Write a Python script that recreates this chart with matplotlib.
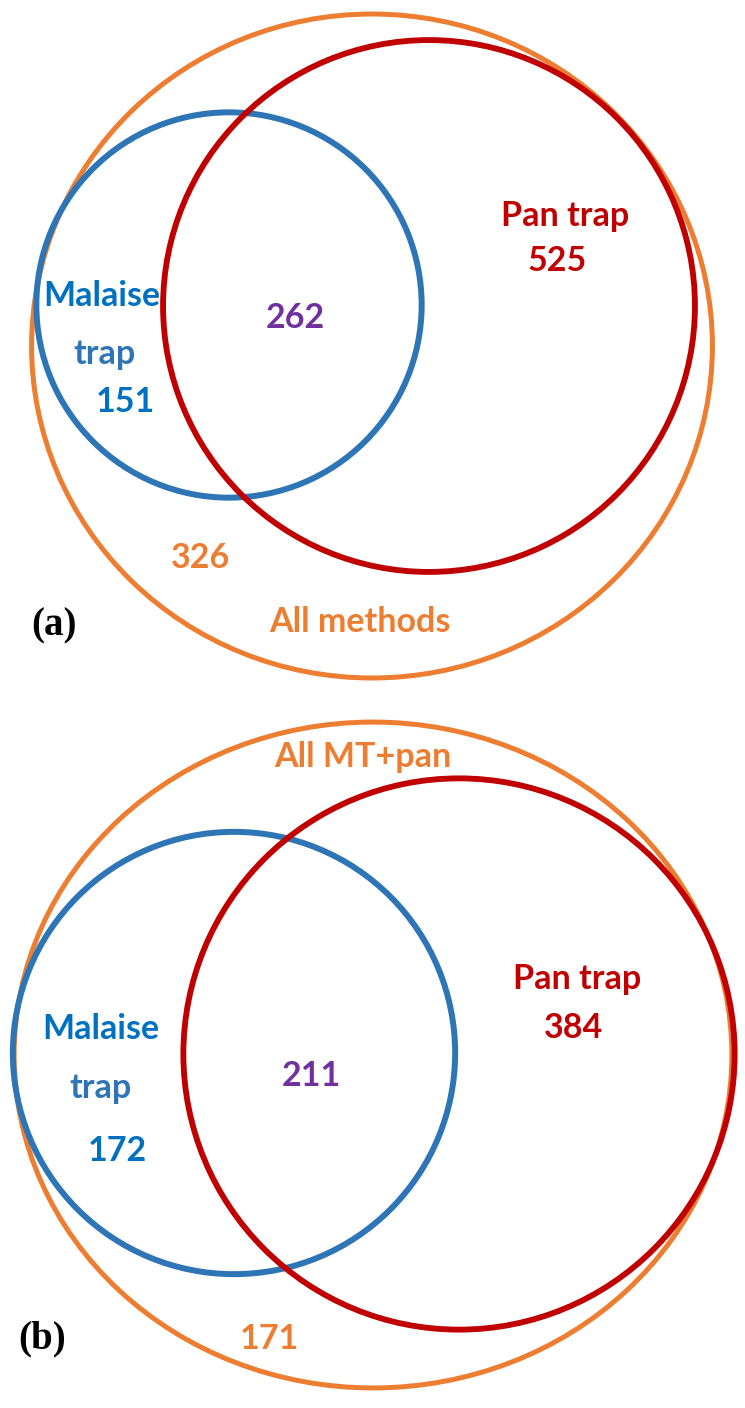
import matplotlib.pyplot as plt
from matplotlib.patches import Ellipse
import numpy as np

# Species counts per region of each Venn panel
panel_labels = ['(a)', '(b)']
total_names = ['All methods', 'All MT+pan']
malaise_only = [151, 172]
shared = [262, 211]
pan_only = [525, 384]
other_only = [326, 171]

orange = '#ED7D31'
blue = '#2E75B6'
blue_dark = '#0070C0'
red = '#C00000'
purple = '#7030A0'

fig = plt.figure(figsize=(7.45, 14.08), dpi=100)
ax = fig.add_axes([0, 0, 1, 1])
ax.set_xlim(0, 745)
ax.set_ylim(1408, 0)
ax.axis('off')

# circle area ~ count; per panel scale and centres (pixel layout)
scale = [9.48, 11.3]
centre_total = [(372, 346), (373, 1055)]
centre_malaise = [(229, 305), (234, 1053)]
centre_pan = [(429, 306), (459, 1054)]
stretch_total = [(1.01, 0.985), (1.037, 0.962)]

# text anchors (pixel layout)
txt = [
    dict(total=(360, 622), pan=(565, 216), pan_n=(557, 261), mal=(102, 296),
         trap=(104, 354), mal_n=(125, 402), both=(295, 318), other=(201, 558),
         label=(54, 626)),
    dict(total=(363, 757), pan=(577, 979), pan_n=(574, 1028), mal=(101, 1029),
         trap=(101, 1088), mal_n=(117, 1151), both=(311, 1076), other=(269, 1339),
         label=(42, 1339)),
]

fs = 24.5
font = dict(family='Lato', fontweight='bold', fontsize=fs, ha='center', va='center')

for i in range(2):
    k = scale[i]
    r_mal = k * np.sqrt(malaise_only[i] + shared[i])
    r_pan = k * np.sqrt(pan_only[i] + shared[i])
    r_tot = k * np.sqrt(malaise_only[i] + shared[i] + pan_only[i] + other_only[i])
    sx, sy = stretch_total[i]

    ax.add_patch(Ellipse(centre_total[i], 2 * r_tot * sx, 2 * r_tot * sy,
                         fill=False, ec=orange, lw=3.6))
    ax.add_patch(Ellipse(centre_malaise[i], 2 * r_mal, 2 * r_mal,
                         fill=False, ec=blue, lw=4.3))
    ax.add_patch(Ellipse(centre_pan[i], 2 * r_pan, 2 * r_pan,
                         fill=False, ec=red, lw=4.2))

    t = txt[i]
    ax.text(*t['total'], total_names[i], color=orange, **font)
    ax.text(*t['pan'], 'Pan trap', color=red, **font)
    ax.text(*t['pan_n'], str(pan_only[i]), color=red, **font)
    ax.text(*t['mal'], 'Malaise', color=blue_dark, **font)
    ax.text(*t['trap'], 'trap', color=blue, **font)
    ax.text(*t['mal_n'], str(malaise_only[i]), color=blue_dark, **font)
    ax.text(*t['both'], str(shared[i]), color=purple, **font)
    ax.text(*t['other'], str(other_only[i]), color=orange, **font)
    ax.text(*t['label'], panel_labels[i], family='Liberation Serif', fontweight='bold',
            fontsize=28, ha='center', va='center', color='black')

fig.savefig('out.png', dpi=100)
